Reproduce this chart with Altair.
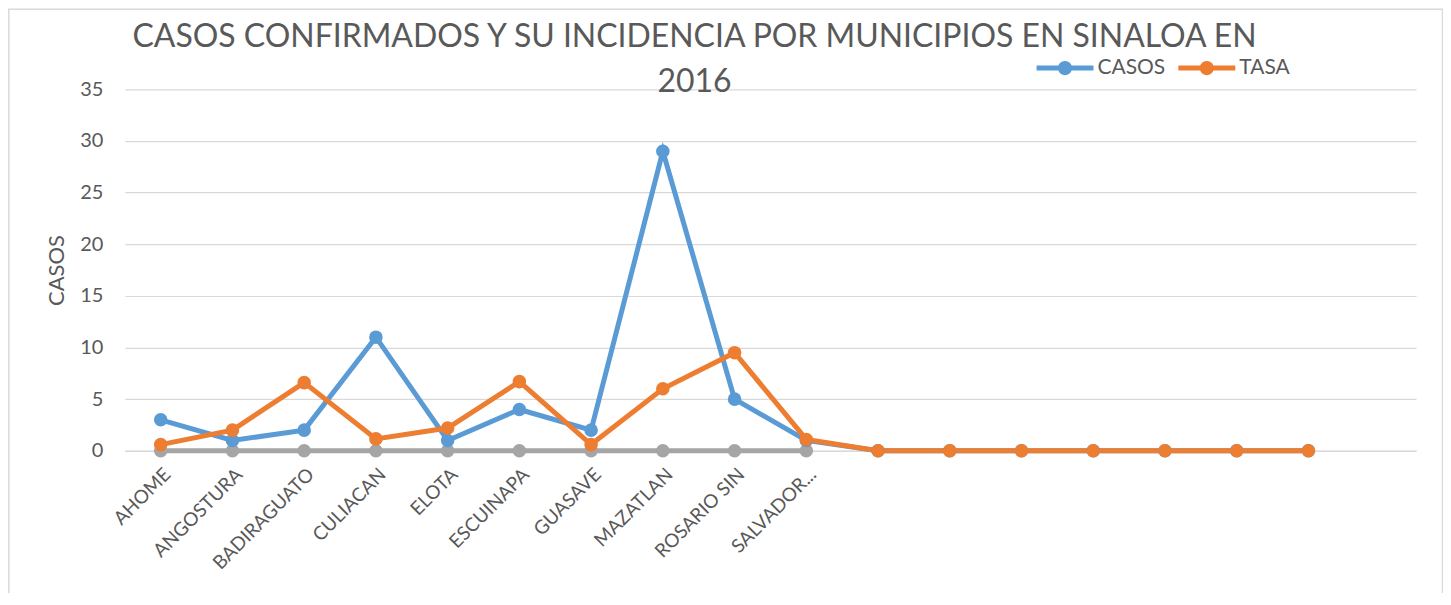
import json
import altair as alt
import pandas as pd

# ---- data ----
municipios = ["AHOME", "ANGOSTURA", "BADIRAGUATO", "CULIACAN", "ELOTA",
              "ESCUINAPA", "GUASAVE", "MAZATLAN", "ROSARIO SIN", "SALVADOR...",
              "", "", "", "", "", "", "", ""]
casos = [3, 1, 2, 11, 1, 4, 2, 29, 5, 1, 0, 0, 0, 0, 0, 0, 0, None]
tasa = [0.6, 2.0, 6.6, 1.15, 2.2, 6.7, 0.6, 6.0, 9.5, 1.1, 0, 0, 0, 0, 0, 0, 0, None]
serie3 = [0, 0, 0, 0, 0, 0, 0, 0, 0, 0, None, None, None, None, None, None, None, None]

series_names = ["SERIE3", "CASOS", "TASA"]
series_values = [serie3, casos, tasa]
colors = {"CASOS": "#5B9BD5", "TASA": "#ED7D31", "SERIE3": "#A5A5A5"}

rows = []
for name, vals in zip(series_names, series_values):
    for i, v in enumerate(vals):
        if v is not None:
            rows.append({"idx": i, "serie": name, "valor": v})
df = pd.DataFrame(rows)

FONT = "Lato"
GRAY_TXT = "#595959"

label_expr = json.dumps(municipios) + "[datum.value]"

x_enc = alt.X("idx:O", scale=alt.Scale(domain=list(range(len(municipios)))),
              axis=alt.Axis(labelExpr=label_expr, labelAngle=-45, labelFontSize=19,
                            labelColor=GRAY_TXT, labelFont=FONT, labelPadding=14,
                            ticks=False, grid=False, domainColor="#d9d9d9",
                            domainWidth=1.5, title=None))
y_enc = alt.Y("valor:Q", scale=alt.Scale(domain=[0, 35], nice=False),
              axis=alt.Axis(values=[0, 5, 10, 15, 20, 25, 30, 35], labelFontSize=20,
                            labelColor=GRAY_TXT, labelFont=FONT, labelPadding=22,
                            ticks=False, domain=False, gridColor="#d9d9d9",
                            gridWidth=1.2, title="CASOS", titleFont=FONT,
                            titleFontSize=22, titleFontWeight="normal",
                            titleColor=GRAY_TXT, titlePadding=11))

color_scale = alt.Scale(domain=["CASOS", "TASA", "SERIE3"],
                        range=[colors["CASOS"], colors["TASA"], colors["SERIE3"]])

sym_path = ("M-1,-0.088 L1,-0.088 L1,0.088 L-1,0.088 Z "
            "M-0.25,0 A0.25,0.25 0 1,1 0.25,0 A0.25,0.25 0 1,1 -0.25,0 Z")

legend = alt.Legend(values=["CASOS", "TASA"], orient="none",
                    legendX=913, legendY=-50, direction="horizontal",
                    title=None, symbolType=sym_path, symbolSize=3249,
                    symbolStrokeWidth=0, labelFont=FONT,
                    labelFontSize=21, labelColor=GRAY_TXT,
                    labelOffset=4, columnPadding=13)

color_enc = alt.Color("serie:N", scale=color_scale, legend=legend)

lines = alt.Chart(df).mark_line(strokeWidth=5).encode(
    x=x_enc, y=y_enc, color=color_enc,
)

points = alt.Chart(df).mark_point(filled=True, size=185, opacity=1).encode(
    x=x_enc, y=y_enc, color=color_enc,
)

frame = alt.Chart(pd.DataFrame({"k": [0]})).mark_rect(
    fill="white", fillOpacity=0, stroke="#d9d9d9", strokeOpacity=1, strokeWidth=1.5
).encode(x=alt.value(-116.2), x2=alt.value(1319.5), y=alt.value(-80.2), y2=alt.value(540))

chart = alt.layer(frame, lines, points).properties(
    width=1293, height=362,
    title=alt.TitleParams(
        text=["CASOS CONFIRMADOS Y SU INCIDENCIA POR MUNICIPIOS EN SINALOA EN", "2016"],
        anchor="middle", frame="group", dx=-76, fontSize=32, font=FONT,
        fontWeight="normal", color=GRAY_TXT, lineHeight=45, offset=-91,
    ),
    autosize=alt.AutoSizeParams(type="none"),
    padding={"left": 117, "top": 81, "right": 27, "bottom": 142},
).configure_view(stroke=None)

chart.save("out.html", embed_options={"renderer": "svg", "actions": False})
